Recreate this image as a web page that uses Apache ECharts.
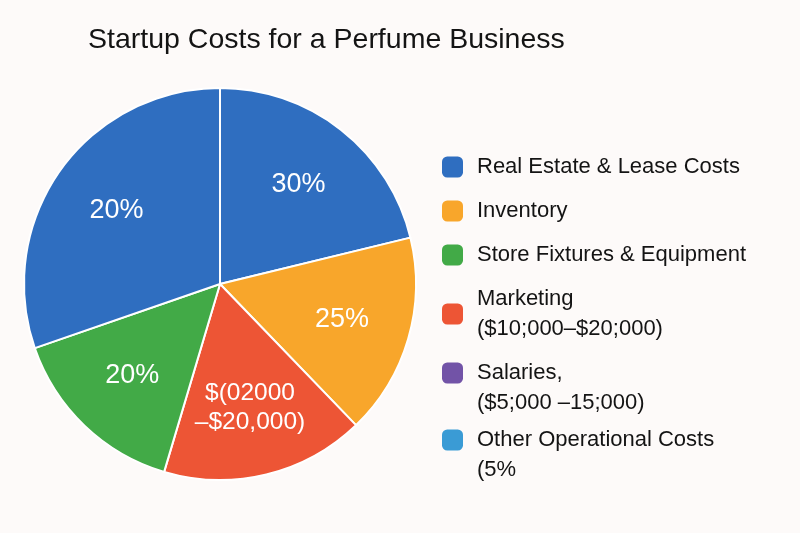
<!DOCTYPE html>
<html>
<head>
<meta charset="utf-8">
<script src="https://cdn.jsdelivr.net/npm/echarts@6/dist/echarts.min.js"></script>
<style>
html,body{margin:0;padding:0;background:#fdfaf9;}
#chart{width:800px;height:533px;}
</style>
</head>
<body>
<div id="chart"></div>
<script>
// ---- data ----
const titleText = 'Startup Costs for a Perfume Business';
const sliceNames = [
  'Real Estate & Lease Costs',
  'Inventory',
  'Marketing\n($10;000–$20;000)',
  'Store Fixtures & Equipment',
  'Real Estate & Lease Costs'
];
const sliceValues = [21.2, 16.6, 16.8, 15.1, 30.3];
const sliceLabels = ['30%', '25%', '$(02000\n–$20,000)', '20%', '20%'];
const legendNames = [
  'Real Estate & Lease Costs',
  'Inventory',
  'Store Fixtures & Equipment',
  'Marketing\n($10;000–$20;000)',
  'Salaries,\n($5;000 –15;000)',
  'Other Operational Costs\n(5%'
];

// ---- styles ----
const colorOf = {
  'Real Estate & Lease Costs': '#2f6ec0',
  'Inventory': '#f8a62b',
  'Store Fixtures & Equipment': '#42aa47',
  'Marketing\n($10;000–$20;000)': '#ed5535',
  'Salaries,\n($5;000 –15;000)': '#7253a7',
  'Other Operational Costs\n(5%': '#3a9bd5'
};
const FONT = '"Liberation Sans", Arial, sans-serif';
const legendTops = [152, 196, 240, 284, 328, 395];
const iconOnFirstLine = [false, false, false, false, true, true];

const pieData = sliceNames.map((n, i) => ({
  name: n, value: sliceValues[i], itemStyle: { color: colorOf[n] }
}));
// legend-only entries with no visible slice
legendNames.forEach(n => {
  if (sliceNames.indexOf(n) < 0) {
    pieData.push({ name: n, value: 0, itemStyle: { color: colorOf[n], borderWidth: 0 }, label: { show: false } });
  }
});
const labelData = sliceNames.map((n, i) => {
  const multi = sliceLabels[i].indexOf('\n') >= 0;
  return {
    name: 'lbl' + i, value: sliceValues[i],
    label: { formatter: sliceLabels[i], fontSize: multi ? 24.5 : 27 }
  };
});

const chart = echarts.init(document.getElementById('chart'), null, { renderer: 'canvas' });
chart.setOption({
  backgroundColor: '#fdfaf9',
  animation: false,
  title: {
    text: titleText,
    left: 88, top: 26, padding: 0,
    textStyle: { fontFamily: FONT, fontSize: 28.5, fontWeight: 'normal', color: '#141414' }
  },
  legend: legendNames.map((n, i) => ({
    data: [n],
    left: 442, top: legendTops[i], padding: 0,
    orient: 'vertical', icon: 'roundRect', itemWidth: 21, itemHeight: 21,
    itemStyle: { borderWidth: 0 },
    selectedMode: false,
    formatter: (name) => (iconOnFirstLine[i] ? ' \n' : '') + name,
    textStyle: { fontFamily: FONT, fontSize: 22, lineHeight: 30, color: '#141414', padding: [0, 0, 0, 9] }
  })),
  series: [
    {
      type: 'pie',
      center: [220, 284],
      radius: 196,
      startAngle: 90,
      clockwise: true,
      avoidLabelOverlap: false,
      stillShowZeroSum: true,
      itemStyle: { borderColor: '#ffffff', borderWidth: 2 },
      label: { show: false },
      labelLine: { show: false },
      emphasis: { disabled: true },
      data: pieData
    },
    {
      type: 'pie',
      center: [220, 284],
      radius: [52, 196],
      startAngle: 90,
      clockwise: true,
      silent: true,
      avoidLabelOverlap: false,
      itemStyle: { color: 'rgba(0,0,0,0)', borderWidth: 0 },
      label: {
        show: true, position: 'inside', color: '#ffffff',
        fontFamily: FONT, fontSize: 27, lineHeight: 29, align: 'center'
      },
      labelLine: { show: false },
      emphasis: { disabled: true },
      data: labelData
    }
  ]
});
</script>
</body>
</html>
